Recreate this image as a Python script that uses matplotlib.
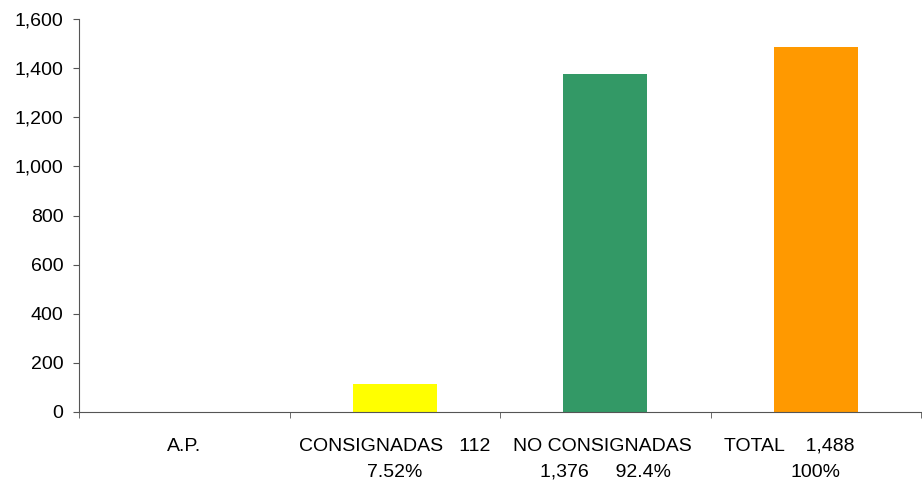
import matplotlib.pyplot as plt
import numpy as np

plt.rcParams['font.family'] = ['Liberation Sans', 'DejaVu Sans']

categorias = ['A.P.', 'CONSIGNADAS', 'NO CONSIGNADAS', 'TOTAL']
valores = [0, 112, 1376, 1488]
# etiquetas como en Excel (texto ajustado en dos lineas)
etiquetas = ['A.P.',
             'CONSIGNADAS   112\n7.52%',
             'NO CONSIGNADAS \n1,376     92.4%',
             'TOTAL    1,488          \n100%']
colores = ['#3366cc', '#ffff00', '#339966', '#ff9900']

fig = plt.figure(figsize=(9.22, 4.83), dpi=100)
ax = fig.add_axes([79/922, 1-412/483, (921-79)/922, (412-19)/483])

x = np.arange(len(categorias))
ax.bar(x, valores, width=0.4, color=colores)

ax.set_xlim(-0.5, 3.5)
ax.set_ylim(0, 1600)
ax.set_yticks(np.arange(0, 1601, 200))
ax.set_yticklabels([f'{v:,}' for v in range(0, 1601, 200)], fontsize=14)
ax.set_xticks(x)
ax.set_xticklabels(etiquetas, fontsize=14, linespacing=1.7)
ax.set_xticks(np.arange(-0.5, 4, 1), minor=True)
ax.tick_params(axis='x', which='major', length=0, pad=18.5)
ax.tick_params(axis='x', which='minor', length=4, direction='out', color='#555555')
ax.tick_params(axis='y', length=4.3, direction='out', color='#555555', pad=7)

ax.spines['top'].set_visible(False)
ax.spines['right'].set_visible(False)
ax.spines['left'].set_color('#555555')
ax.spines['bottom'].set_color('#555555')

fig.savefig('out.png', dpi=100)
